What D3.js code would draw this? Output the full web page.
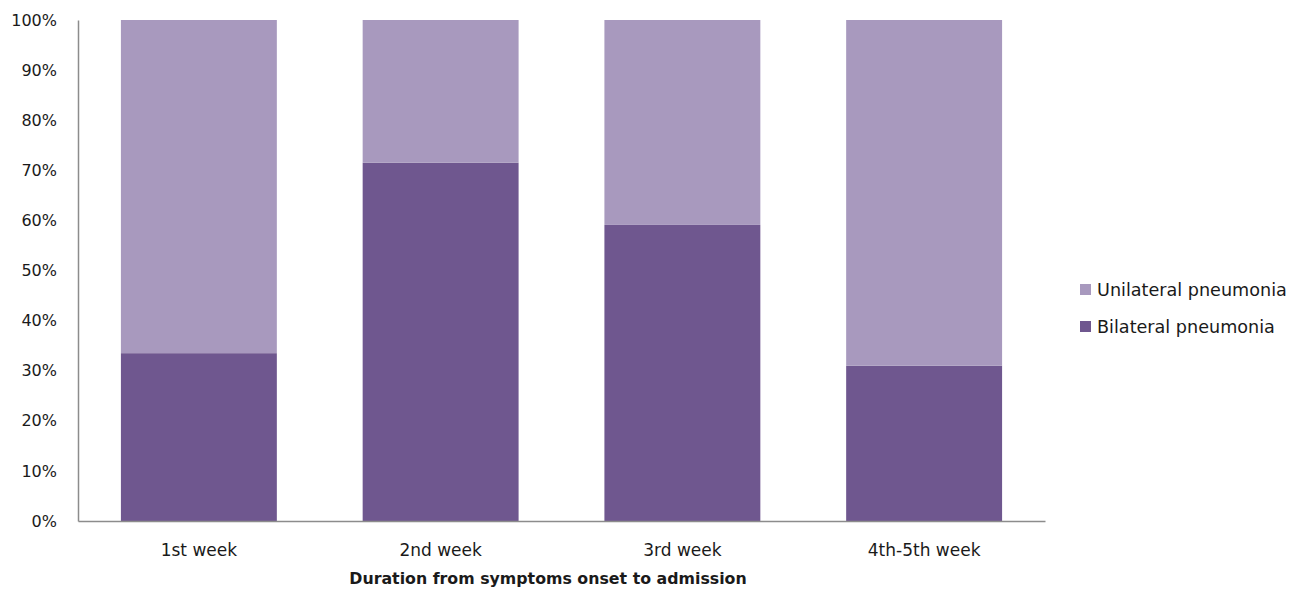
<!DOCTYPE html>
<html>
<head>
<meta charset="utf-8">
<script src="https://cdn.jsdelivr.net/npm/d3@7"></script>
<style>
  body { margin: 0; background: #fff; }
  svg { display: block; }
  text { font-family: "DejaVu Sans", sans-serif; fill: #1a1a1a; }
</style>
</head>
<body>
<svg id="chart" width="1290" height="592"></svg>
<script>
// Share of pneumonia type by time from symptom onset to admission
const categories = ["1st week", "2nd week", "3rd week", "4th-5th week"];
const bilateral = [33.5, 71.5, 59.1, 31.0];
const unilateral = bilateral.map(v => 100 - v);
const seriesNames = ["Unilateral pneumonia", "Bilateral pneumonia"];
const yTicks = [0, 10, 20, 30, 40, 50, 60, 70, 80, 90, 100];

const colors = { "Bilateral pneumonia": "#6F578F", "Unilateral pneumonia": "#A899BE" };
const font = "'DejaVu Sans', sans-serif";

const svg = d3.select("#chart");
const plotLeft = 78, plotRight = 1045, plotTop = 20, plotBottom = 521;

const x = d3.scaleBand().domain(categories).range([plotLeft, plotRight]).paddingInner(0.355).paddingOuter(0.1775);
const y = d3.scaleLinear().domain([0, 100]).range([plotBottom, plotTop]);

const rows = categories.map((c, i) => ({ cat: c, bil: bilateral[i], uni: unilateral[i] }));
const stack = d3.stack().keys(["bil", "uni"])(rows);
const keyName = { bil: "Bilateral pneumonia", uni: "Unilateral pneumonia" };

svg.append("g").selectAll("g").data(stack).join("g")
  .attr("fill", d => colors[keyName[d.key]])
  .selectAll("rect").data(d => d).join("rect")
  .attr("x", d => x(d.data.cat))
  .attr("width", x.bandwidth())
  .attr("y", d => y(d[1]))
  .attr("height", d => y(d[0]) - y(d[1]));

// Y axis
const yAxis = svg.append("g").attr("transform", `translate(${plotLeft},0)`)
  .call(d3.axisLeft(y).tickValues(yTicks).tickFormat(d => d + "%").tickSize(0).tickPadding(21));
yAxis.select(".domain").attr("stroke", "#8c8c8c").attr("stroke-width", 1.5);
yAxis.selectAll("text").style("font-size", "16px").style("font-family", font).attr("fill", "#1a1a1a");

// X axis
const xAxis = svg.append("g").attr("transform", `translate(0,${plotBottom})`)
  .call(d3.axisBottom(x).tickSize(0).tickPadding(23));
xAxis.select(".domain").attr("stroke", "#8c8c8c").attr("stroke-width", 1.5);
xAxis.selectAll("text").style("font-size", "17px").style("font-family", font).attr("fill", "#1a1a1a");

// X axis title
svg.append("text")
  .attr("x", 548)
  .attr("y", 584)
  .attr("text-anchor", "middle")
  .style("font-size", "15.8px")
  .style("font-weight", "bold")
  .text("Duration from symptoms onset to admission");

// Legend
const legend = svg.append("g").attr("transform", "translate(1080,284)");
seriesNames.forEach((name, i) => {
  const g = legend.append("g").attr("transform", `translate(0,${i * 37})`);
  g.append("rect").attr("width", 11).attr("height", 11).attr("fill", colors[name]);
  g.append("text").attr("x", 17).attr("y", 12).style("font-size", "17.6px").text(name);
});
</script>
</body>
</html>
